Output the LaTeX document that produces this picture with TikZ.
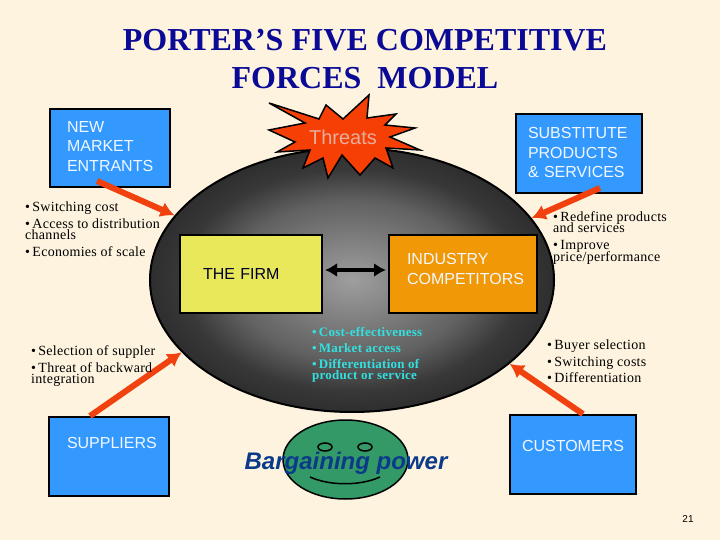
\documentclass[tikz,border=0pt]{standalone}
\usepackage{fontspec}
\setmainfont{Liberation Serif}
\setsansfont{Liberation Sans}
\newfontfamily\notefamily[LetterSpace=2]{Liberation Serif}
\usetikzlibrary{shapes.geometric,arrows.meta}
\definecolor{pagecream}{HTML}{FDF3DF}
\definecolor{titleblue}{HTML}{0A0A96}
\definecolor{boxblue}{HTML}{3399FF}
\definecolor{firmyellow}{HTML}{E8E85A}
\definecolor{rivalorange}{HTML}{F09805}
\definecolor{faceteal}{HTML}{339966}
\definecolor{forcered}{HTML}{F0410F}
\definecolor{starred}{HTML}{F53F05}
\definecolor{threatgray}{HTML}{E6AE9C}
\definecolor{bulletcyan}{HTML}{33E0E0}
\definecolor{powerblue}{HTML}{0B3A8A}
\definecolor{boxwhite}{HTML}{F2F8FF}
\newcommand{\bul}{\textbullet\,}
\newcommand{\lift}[1]{\rule[-#1]{0pt}{#1}}
\newcommand{\tightlines}{\lineskiplimit -30pt\relax}
\pgfdeclareradialshading{ovalshade}{\pgfpointorigin}{color(0bp)=(black!38); color(15bp)=(black!62);
  color(21bp)=(black!78); color(25bp)=(black!82); color(50bp)=(black!82)}
\tikzset{
  forcebox/.style n args={4}{draw=black,line width=2pt,fill=boxblue,text=boxwhite,
    font=\sffamily\fontsize{16}{19.5}\selectfont,align=left,inner ysep=0pt,
    minimum width=#1,minimum height=#2,inner xsep=#3,text width=#4},
  bulletnote/.style={anchor=north west,inner sep=0pt,align=left,
    font=\notefamily\fontsize{14}{11.5}\selectfont\tightlines},
  forcearrow/.style={draw=forcered,line width=6pt,-{Latex[length=14pt,width=16pt]}},
  eye/.style={draw=black,line width=1.5pt,fill=faceteal,ellipse,inner sep=0pt,
    minimum width=14pt,minimum height=8pt},
}
\begin{document}
\begin{tikzpicture}[x=1pt,y=-1pt]
  \fill[pagecream] (0,0) rectangle (720,540);
  % title
  \node[font=\bfseries\fontsize{32}{38}\selectfont,text=titleblue,align=center] (title) at (365,59)
    {PORTER’S FIVE COMPETITIVE\\FORCES\ \ MODEL};
  % central oval
  \node[ellipse,draw=black,line width=2pt,inner sep=0pt,minimum width=404pt,minimum height=264pt,
    shading=ovalshade] (oval) at (352,280) {};
  % threats star
  \filldraw[fill=starred,draw=black,line width=1.5pt]
    (269,103) -- (319,119) -- (326,105) -- (343,119) -- (369,95) -- (367,118) -- (396,114) -- (385,125)
    -- (415,128) -- (390,137) -- (420,150) -- (386,148) -- (393,168) -- (375,158) -- (360,175) -- (342,155)
    -- (328,178) -- (323,158) -- (303,168) -- (310,150) -- (277,152) -- (295,142) -- (269,130) -- (305,123) -- cycle;
  \node[font=\sffamily\fontsize{20}{24}\selectfont,text=threatgray] (threats) at (343,137) {Threats};
  % the five boxes
  \node[forcebox={120pt}{78pt}{17pt}{86pt}] (entrants) at (110,148) {NEW\\MARKET\\ENTRANTS\lift{4pt}};
  \node[forcebox={126pt}{79pt}{12pt}{102pt}] (substitutes) at (579,153.5) {SUBSTITUTE\\PRODUCTS\\\&~SERVICES\lift{2pt}};
  \node[forcebox={120pt}{79pt}{18pt}{84pt}] (suppliers) at (109,456.5) {SUPPLIERS\lift{28pt}};
  \node[forcebox={126pt}{79pt}{12pt}{102pt}] (customers) at (573,454.5) {CUSTOMERS\lift{18pt}};
  \node[forcebox={142pt}{78pt}{23pt}{96pt},fill=firmyellow,text=black!85!blue] (firm) at (251,274) {THE FIRM\lift{1pt}};
  \node[forcebox={148pt}{78pt}{18pt}{112pt},fill=rivalorange] (rivals) at (463,274) {INDUSTRY\\COMPETITORS\lift{10pt}};
  \draw[black,line width=3.5pt,{Latex[length=12pt,width=14pt]}-{Latex[length=12pt,width=14pt]}]
    ([xshift=2pt,yshift=4pt]firm.east) -- ([xshift=-2pt,yshift=4pt]rivals.west);
  % force arrows
  \draw[forcearrow] ([xshift=-13pt,yshift=7pt]entrants.south) -- (oval.160.5);
  \draw[forcearrow] ([xshift=21pt,yshift=6pt]substitutes.south) -- (oval.19.8);
  \draw[forcearrow] ([xshift=-19pt]suppliers.north) -- (oval.203.6);
  \draw[forcearrow] ([xshift=10pt]customers.north) -- (oval.-28.8);
  % notes
  \node[bulletnote] (entrantnote) at (25,201.5) {\bul Switching cost\\[5.5pt]\bul Access to distribution\\channels\\[5.5pt]\bul Economies of scale};
  \node[bulletnote] (subnote) at (553,211) {\bul Redefine products\\and services\\[5.5pt]\bul Improve\\price/performance};
  \node[bulletnote] (suppliernote) at (31,345) {\bul Selection of suppler\\[5.5pt]\bul Threat of backward\\integration};
  \node[bulletnote] (customernote) at (547,340) {\bul Buyer selection\\[5.5pt]\bul Switching costs\\[4.5pt]\bul Differentiation};
  \node[bulletnote,font=\notefamily\bfseries\fontsize{13}{11.5}\selectfont\tightlines,text=bulletcyan] (rivalnote) at (312,327)
    {\bul Cost-effectiveness\\[4.5pt]\bul Market access\\[4.5pt]\bul Differentiation of\\product or service};
  % bargaining face
  \node[ellipse,draw=black,line width=1.5pt,fill=faceteal,inner sep=0pt,minimum width=125pt,minimum height=79pt] (face) at (345.5,459.5) {};
  \node[eye] (lefteye) at (325,447) {};
  \node[eye] (righteye) at (365,447) {};
  \draw[black,line width=1.5pt] (310,477) .. controls (330,486) and (360,486) .. (380,477);
  \node[font=\sffamily\bfseries\itshape\fontsize{24}{28}\selectfont,text=powerblue] (bargaining) at (346,463) {Bargaining power};
  \node[font=\sffamily\fontsize{10}{12}\selectfont,text=black] (pagenum) at (688,519) {21};
\end{tikzpicture}
\end{document}
